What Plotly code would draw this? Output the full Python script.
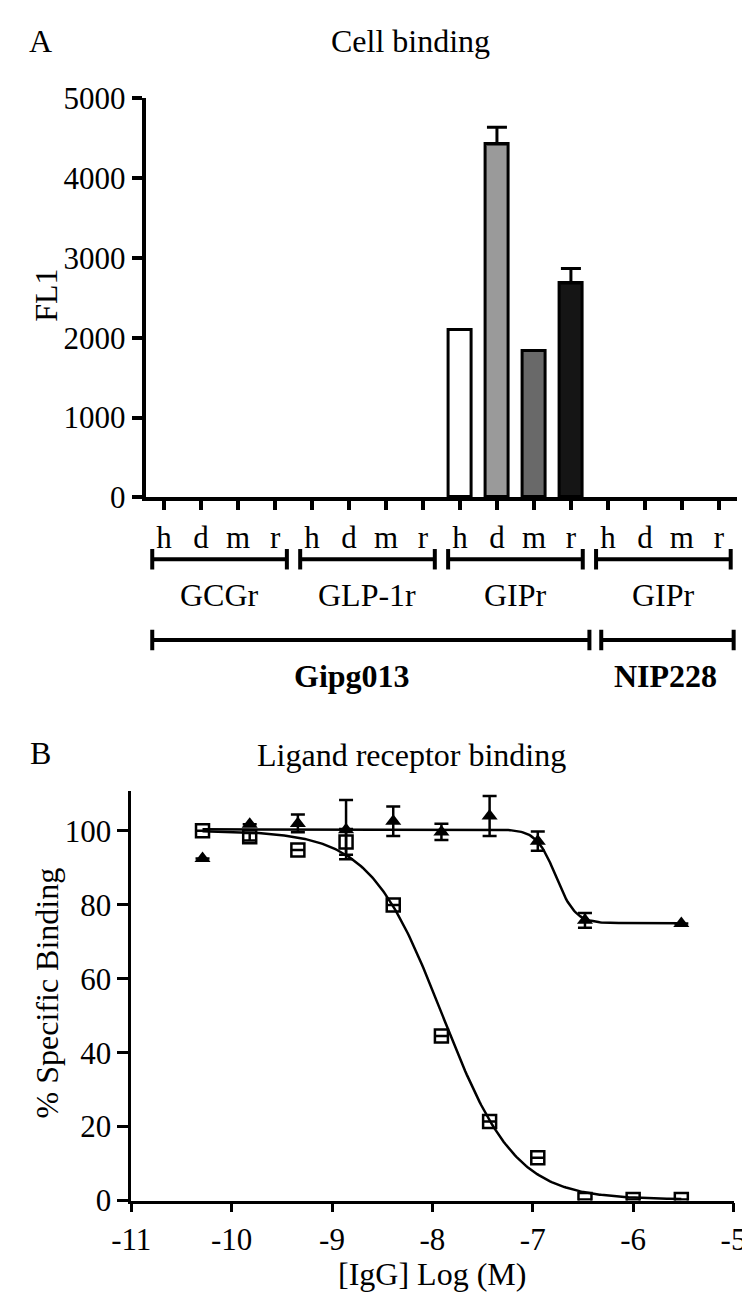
import numpy as np
import plotly.graph_objects as go

W, H = 750, 1303
FONT = "Liberation Serif"

# ---------------- Panel A data ----------------
species = ["h", "d", "m", "r"] * 4
receptor_groups = ["GCGr", "GLP-1r", "GIPr", "GIPr"]
antibody_groups = ["Gipg013", "NIP228"]
antibody_sizes = [12, 4]
fl1_values = [0, 0, 0, 0, 0, 0, 0, 0, 2100, 4425, 1830, 2685, 0, 0, 0, 0]
fl1_err = [None, None, None, None, None, None, None, None, None, 210, None, 180, None, None, None, None]
bar_colors = ["#ffffff", "#9a9a9a", "#696969", "#151515"] * 4

# ---------------- Panel B data ----------------
log_conc_gipg = [-10.29, -9.82, -9.34, -8.86, -8.39, -7.91, -7.43, -6.95, -6.48, -6.00, -5.52]
binding_gipg = [100.0, 98.4, 94.8, 97.0, 79.9, 44.5, 21.4, 11.6, 0.3, 0.3, 0.3]
err_gipg = [None, 1.0, None, 3.5, None, None, None, None, None, None, None]

log_conc_nip = [-10.29, -9.82, -9.34, -8.86, -8.39, -7.91, -7.43, -6.95, -6.48, -5.52]
binding_nip = [92.5, 101.8, 102.0, 100.3, 102.6, 99.7, 104.0, 97.2, 75.8, 74.9]
err_nip = [None, None, 2.4, 8.0, 4.0, 2.2, 5.4, 2.6, 2.0, None]

# fitted 4-parameter logistic curves (parameters)
fit_gipg = dict(top=100.0, bottom=0.3, logic50=-7.9, hill=1.2)
fit_nip = dict(top=100.4, bottom=75.0, logic50=-6.77, hill=4.5)


def four_pl(x, p):
    x = np.asarray(x)
    return p["bottom"] + (p["top"] - p["bottom"]) / (1 + 10 ** (p["hill"] * (x - p["logic50"])))


def py(pix):
    return 1 - pix / H


def pxx(pix):
    return pix / W


fig = go.Figure()

# Panel A bars (no outline drawn for empty bars)
cats = list(range(len(species)))
fig.add_trace(go.Bar(
    x=cats, y=fl1_values, width=0.62,
    marker=dict(color=bar_colors,
                line=dict(color="black", width=[3 if v > 0 else 0 for v in fl1_values])),
    xaxis="x", yaxis="y", showlegend=False, hoverinfo="skip",
))
# upward-only error bars, only where an error exists
err_idx = [i for i, e in enumerate(fl1_err) if e is not None]
fig.add_trace(go.Scatter(
    x=[cats[i] for i in err_idx], y=[fl1_values[i] for i in err_idx], mode="markers",
    marker=dict(size=1, color="rgba(0,0,0,0)"),
    error_y=dict(type="data", array=[fl1_err[i] for i in err_idx], arrayminus=[0] * len(err_idx),
                 symmetric=False, color="black", thickness=3, width=10),
    xaxis="x", yaxis="y", showlegend=False,
))

# Panel B curves
xs_g = np.linspace(min(log_conc_gipg), max(log_conc_gipg), 300)
xs_n = np.linspace(min(log_conc_nip), max(log_conc_nip), 300)
fig.add_trace(go.Scatter(x=xs_g, y=four_pl(xs_g, fit_gipg), mode="lines",
                         line=dict(color="black", width=2.5), xaxis="x2", yaxis="y2", showlegend=False))
fig.add_trace(go.Scatter(x=xs_n, y=four_pl(xs_n, fit_nip), mode="lines",
                         line=dict(color="black", width=2.5), xaxis="x2", yaxis="y2", showlegend=False))
fig.add_trace(go.Scatter(x=log_conc_nip, y=binding_nip, mode="markers",
                         marker=dict(symbol="triangle-up", size=14, color="black"),
                         error_y=dict(type="data", array=err_nip, color="black", thickness=2.5, width=7),
                         xaxis="x2", yaxis="y2", showlegend=False))
fig.add_trace(go.Scatter(x=log_conc_gipg, y=binding_gipg, mode="markers",
                         marker=dict(symbol="square-open", size=13, color="black", line=dict(width=2.5, color="black")),
                         error_y=dict(type="data", array=err_gipg, color="black", thickness=2.5, width=7),
                         xaxis="x2", yaxis="y2", showlegend=False))

tickfont = dict(family=FONT, size=31, color="black")
fig.update_layout(
    width=W, height=H, margin=dict(l=0, r=0, t=0, b=0),
    paper_bgcolor="white", plot_bgcolor="white", showlegend=False, bargap=0,
    xaxis=dict(domain=[pxx(123), pxx(742)], range=[-0.5, 15.5], tickvals=cats, ticktext=species,
               ticks="outside", ticklen=9, tickwidth=3.5, tickcolor="black",
               showline=True, linewidth=4, linecolor="black", showgrid=False, zeroline=False,
               tickfont=tickfont, fixedrange=True, ticklabeloverflow="allow"),
    yaxis=dict(domain=[py(485.5), py(75)], range=[0, 5000], tickvals=[0, 1000, 2000, 3000, 4000, 5000],
               ticks="outside", ticklen=10, tickwidth=3.5, tickcolor="black",
               showline=True, linewidth=4, linecolor="black", showgrid=False, zeroline=False,
               tickfont=tickfont, anchor="x", ticklabeloverflow="allow"),
    xaxis2=dict(domain=[pxx(108), pxx(738)], range=[-11, -5], tickvals=[-11, -10, -9, -8, -7, -6, -5],
                ticktext=["-11", "-10", "-9", "-8", "-7", "-6", "-5"],
                ticks="outside", ticklen=9, tickwidth=2.5, tickcolor="black",
                showline=True, linewidth=2.7, linecolor="black", showgrid=False, zeroline=False,
                tickfont=tickfont, anchor="y2", ticklabeloverflow="allow"),
    yaxis2=dict(domain=[py(1208), py(787)], range=[0, 110.8], tickvals=[0, 20, 40, 60, 80, 100],
                ticks="outside", ticklen=11, tickwidth=2.5, tickcolor="black",
                showline=True, linewidth=2.7, linecolor="black", showgrid=False, zeroline=False,
                tickfont=tickfont, anchor="x2", ticklabeloverflow="allow"),
)

shapes = []
annotations = []
lbl_font = dict(family=FONT, size=32, color="black")


def bracket(x0, x1, ypix, half=10.5, lw=4):
    yc = py(ypix)
    shapes.append(dict(type="line", xref="x", yref="paper", x0=x0, x1=x1, y0=yc, y1=yc,
                       line=dict(color="black", width=lw)))
    for xe in (x0, x1):
        shapes.append(dict(type="line", xref="x", yref="paper", x0=xe, x1=xe,
                           y0=py(ypix - half), y1=py(ypix + half), line=dict(color="black", width=lw)))


# receptor brackets
for i, name in enumerate(receptor_groups):
    first, last = 4 * i, 4 * i + 3
    bracket(first - 0.32, last + 0.32, 549)
    annotations.append(dict(text=name, x=(first + last) / 2, y=py(586), xref="x", yref="paper",
                            showarrow=False, font=lbl_font, xanchor="center", yanchor="middle"))

# antibody brackets
start = 0
ab_pads = [(-0.32, 0.5), (-0.18, 0.4)]
ab_label_shift = [-0.42, 0.06]
for name, n, pad, sh in zip(antibody_groups, antibody_sizes, ab_pads, ab_label_shift):
    first, last = start, start + n - 1
    bracket(first + pad[0], last + pad[1], 632)
    annotations.append(dict(text="<b>%s</b>" % name, x=(first + last) / 2 + sh, y=py(669), xref="x", yref="paper",
                            showarrow=False, font=lbl_font, xanchor="center", yanchor="middle"))
    start += n


# titles & axis labels
def txt(t, xp, ypix, angle=0, size=32):
    annotations.append(dict(text=t, x=pxx(xp), y=py(ypix), xref="paper", yref="paper", showarrow=False,
                            font=dict(family=FONT, size=size, color="black"), textangle=angle,
                            xanchor="center", yanchor="middle"))


txt("A", 13, 16)
txt("Cell binding", 400, 16)
txt("FL1", 18, 278, angle=-90)
txt("B", 13, 748)
txt("Ligand receptor binding", 401, 750)
txt("% Specific Binding", 20, 995, angle=-90)
txt("[IgG] Log (M)", 423, 1283)

fig.update_layout(shapes=shapes, annotations=annotations)
fig.write_html("out.html")
